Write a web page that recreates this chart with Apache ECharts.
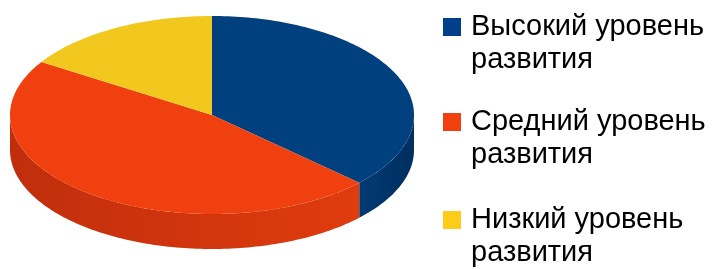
<!DOCTYPE html>
<html>
<head>
<meta charset="utf-8">
<script src="https://cdn.jsdelivr.net/npm/echarts@6/dist/echarts.min.js"></script>
<style>
html,body{margin:0;padding:0;background:#fff;}
#demo{width:715px;height:269px;}
</style>
</head>
<body>
<div id="demo"></div>
<script>
// данные диаграммы
var categories = ['Высокий уровень развития', 'Средний уровень развития', 'Низкий уровень развития'];
var values = [37, 47, 16];
var topColors = ['#00407f', '#f04010', '#f2c81e'];
var legendColors = ['#00408a', '#f04010', '#ffcc1a'];
var sideColors = [['#003a73', '#002f60'], ['#c02e0c', '#e03c0e'], ['#d0a818', '#e0b81a']];

// геометрия "3D" круга (эллипс + боковая стенка)
var cx = 212, cy = 115, rx = 202, ry = 99, depth = 35;

var total = 0;
for (var i = 0; i < values.length; i++) total += values[i];

function pt(a, dy) {
    // угол от верхней точки, по часовой стрелке
    return [cx + rx * Math.sin(a), cy - ry * Math.cos(a) + (dy || 0)];
}

function arcPoints(a0, a1, dy) {
    var pts = [];
    var n = Math.max(2, Math.ceil((a1 - a0) / 0.02));
    for (var k = 0; k <= n; k++) {
        pts.push(pt(a0 + (a1 - a0) * k / n, dy));
    }
    return pts;
}

function renderSlice(params, api) {
    var idx = params.seriesIndex;
    var before = 0;
    for (var j = 0; j < idx; j++) before += values[j];
    var a0 = before / total * Math.PI * 2;
    var a1 = (before + api.value(0)) / total * Math.PI * 2;
    var children = [];
    // боковая стенка видна только спереди (от 90 до 270 градусов)
    var s0 = Math.max(a0, Math.PI / 2);
    var s1 = Math.min(a1, Math.PI * 1.5);
    if (s1 > s0) {
        var upper = arcPoints(s0, s1, 0);
        var lower = arcPoints(s0, s1, depth).reverse();
        children.push({
            type: 'polygon',
            shape: { points: upper.concat(lower) },
            style: {
                fill: new echarts.graphic.LinearGradient(0, 0, 1, 0, [
                    { offset: 0, color: sideColors[idx][0] },
                    { offset: 1, color: sideColors[idx][1] }
                ])
            },
            z2: 1
        });
    }
    var face = [[cx, cy]].concat(arcPoints(a0, a1, 0));
    children.push({
        type: 'polygon',
        shape: { points: face },
        style: { fill: topColors[idx] },
        z2: 2
    });
    return { type: 'group', children: children };
}

var series = [];
for (var s = 0; s < categories.length; s++) {
    series.push({
        name: categories[s],
        type: 'custom',
        coordinateSystem: 'none',
        renderItem: renderSlice,
        itemStyle: { color: legendColors[s] },
        data: [[values[s]]]
    });
}

// по одной легенде на категорию, чтобы квадрат стоял у первой строки
var legendCenters = [27, 122, 220];
var legends = [];
for (var l = 0; l < categories.length; l++) {
    legends.push({
        orient: 'vertical',
        left: 443,
        top: legendCenters[l] - 49.5,
        padding: 0,
        icon: 'rect',
        itemWidth: 18,
        itemHeight: 18,
        selectedMode: false,
        data: [categories[l]],
        formatter: function (name) {
            // пустая первая строка: первая строка текста встаёт по центру квадрата
            return '\n' + name.replace(' развития', '\nразвития');
        },
        textStyle: {
            fontFamily: 'Liberation Sans, Arial',
            fontSize: 29,
            lineHeight: 33,
            color: '#000',
            padding: [0, 0, 0, 5]
        }
    });
}

var chartDom = document.getElementById('demo');
var myChart = echarts.init(chartDom);
var option = {
    animation: false,
    legend: legends,
    series: series
};
option && myChart.setOption(option);
</script>
</body>
</html>
